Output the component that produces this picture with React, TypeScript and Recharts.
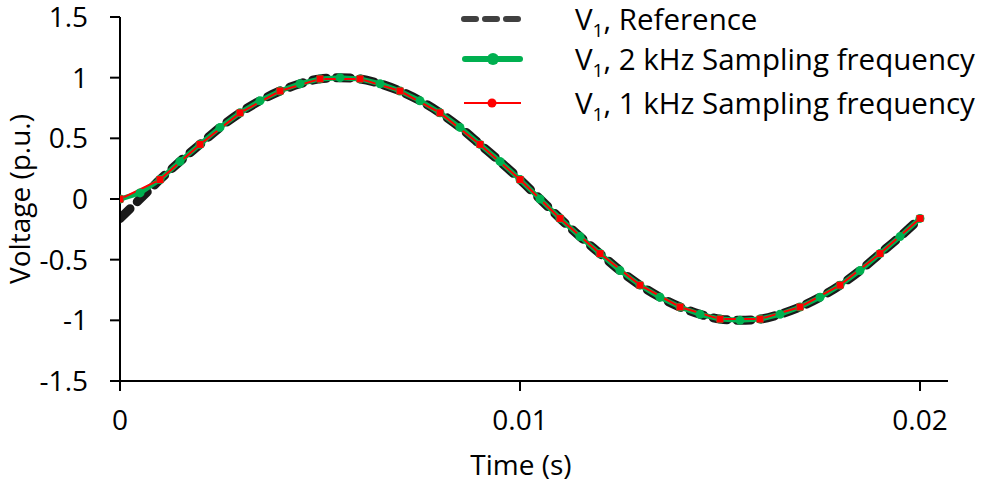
import { LineChart, Line, XAxis, YAxis, Label } from "recharts";

// time stamps (s)
const refTime = [
  0, 0.0005, 0.001, 0.0015, 0.002, 0.0025, 0.003, 0.0035, 0.004, 0.0045,
  0.005, 0.0055, 0.006, 0.0065, 0.007, 0.0075, 0.008, 0.0085, 0.009, 0.0095,
  0.01, 0.0105, 0.011, 0.0115, 0.012, 0.0125, 0.013, 0.0135, 0.014, 0.0145,
  0.015, 0.0155, 0.016, 0.0165, 0.017, 0.0175, 0.018, 0.0185, 0.019, 0.0195, 0.02,
];
// V1 reference (p.u.)
const refVolt = [
  -0.16, 0.0, 0.16, 0.31, 0.45, 0.59, 0.71, 0.81, 0.89, 0.95,
  0.99, 1.0, 0.99, 0.95, 0.89, 0.81, 0.71, 0.59, 0.45, 0.31,
  0.16, 0.0, -0.16, -0.31, -0.45, -0.59, -0.71, -0.81, -0.89, -0.95,
  -0.99, -1.0, -0.99, -0.95, -0.89, -0.81, -0.71, -0.59, -0.45, -0.31, -0.16,
];
// 2 kHz samples
const volt2k = [
  0.0, 0.05, 0.16, 0.31, 0.45, 0.59, 0.71, 0.81, 0.89, 0.95,
  0.99, 1.0, 0.99, 0.95, 0.89, 0.81, 0.71, 0.59, 0.45, 0.31,
  0.16, 0.0, -0.16, -0.31, -0.45, -0.59, -0.71, -0.81, -0.89, -0.95,
  -0.99, -1.0, -0.99, -0.95, -0.89, -0.81, -0.71, -0.59, -0.45, -0.31, -0.16,
];
// 1 kHz samples
const time1k = [
  0, 0.001, 0.002, 0.003, 0.004, 0.005, 0.006, 0.007, 0.008, 0.009, 0.01,
  0.011, 0.012, 0.013, 0.014, 0.015, 0.016, 0.017, 0.018, 0.019, 0.02,
];
const volt1k = [
  0.0, 0.16, 0.45, 0.71, 0.89, 0.99, 0.99, 0.89, 0.71, 0.45, 0.16,
  -0.16, -0.45, -0.71, -0.89, -0.99, -0.99, -0.89, -0.71, -0.45, -0.16,
];

const xTicks = [0, 0.01, 0.02];
const yTicks = [-1.5, -1, -0.5, 0, 0.5, 1, 1.5];

const refData = refTime.map((t, i) => ({ t, v: refVolt[i] }));
const data2k = refTime.map((t, i) => ({ t, v: volt2k[i] }));
const data1k = time1k.map((t, i) => ({ t, v: volt1k[i] }));

const FONT = "'Open Sans', sans-serif";
const BLACK = "#1a1a1a";
const GREEN = "#00b050";
const RED = "#ff0000";

const SquareDot = (props: any) => {
  const { cx, cy, index } = props;
  if (cx == null || cy == null) return <g key={index} />;
  return <rect key={index} x={cx - 3.5} y={cy - 3.5} width={7} height={7} fill={RED} />;
};

const legendRows = [
  { key: "ref", text: ", Reference", top: 3 },
  { key: "2k", text: ", 2 kHz Sampling frequency", top: 43 },
  { key: "1k", text: ", 1 kHz Sampling frequency", top: 87 },
];

// legend drawn over the plot's top-right corner
const LegendBox = () => (
  <div style={{ position: "absolute", left: 440, top: 0, width: 545, fontFamily: FONT, fontSize: 29.5, color: "#000" }}>
    {legendRows.map((r, i) => (
      <div key={r.key} style={{ position: "absolute", top: r.top, left: 0, display: "flex", alignItems: "center", height: 32, lineHeight: "32px" }}>
        <svg width={135} height={20} style={{ flex: "none" }}>
          {i === 0 && (
            <line x1={24} y1={10} x2={78} y2={10} stroke="#404040" strokeWidth={6}
              strokeDasharray="12 9" strokeLinecap="round" />
          )}
          {i === 1 && (
            <g>
              <line x1={25} y1={10} x2={80} y2={10} stroke={GREEN} strokeWidth={6} strokeLinecap="round" />
              <circle cx={53} cy={10} r={6} fill={GREEN} />
            </g>
          )}
          {i === 2 && (
            <g>
              <line x1={24} y1={10} x2={81} y2={10} stroke={RED} strokeWidth={2} />
              <circle cx={52} cy={10} r={4.5} fill={RED} />
            </g>
          )}
        </svg>
        <span style={{ whiteSpace: "nowrap" }}>
          V<sub style={{ fontSize: 19, lineHeight: 0 }}>1</sub>
          {r.text}
        </span>
      </div>
    ))}
  </div>
);

export default function App() {
  return (
    <div style={{ position: "absolute", left: 0, top: 0, width: 985, height: 483, background: "#fff" }}>
      <LineChart width={985} height={483} margin={{ top: 17, right: 37, bottom: 0, left: 0 }}>
        <XAxis
          type="number"
          dataKey="t"
          domain={[0, 0.0207]}
          ticks={xTicks}
          allowDataOverflow
          stroke="#000"
          strokeWidth={2}
          tickSize={10}
          tickMargin={19}
          height={102}
          tick={{ fill: "#000", fontSize: 28, fontFamily: FONT }}
        >
          <Label value="Time (s)" position="insideBottom" offset={8} dx={-13}
            style={{ fill: "#000", fontSize: 28, fontFamily: FONT }} />
        </XAxis>
        <YAxis
          type="number"
          dataKey="v"
          domain={[-1.5, 1.5]}
          ticks={yTicks}
          stroke="#000"
          strokeWidth={2}
          tickSize={10}
          tickMargin={22}
          width={120}
          tick={{ fill: "#000", fontSize: 28, fontFamily: FONT }}
        >
          <Label value="Voltage (p.u.)" angle={-90} position="insideLeft" offset={20}
            style={{ textAnchor: "middle", fill: "#000", fontSize: 28, fontFamily: FONT }} />
        </YAxis>
        <Line
          data={refData}
          dataKey="v"
          type="monotone"
          stroke={BLACK}
          strokeWidth={9}
          strokeDasharray="14 10"
          strokeLinecap="round"
          dot={false}
          isAnimationActive={false}
        />
        <Line
          data={data2k}
          dataKey="v"
          type="linear"
          stroke={GREEN}
          strokeWidth={5}
          dot={{ r: 4.5, fill: GREEN, stroke: "none" }}
          isAnimationActive={false}
        />
        <Line
          data={data1k}
          dataKey="v"
          type="linear"
          stroke={RED}
          strokeWidth={2}
          dot={SquareDot}
          isAnimationActive={false}
        />
      </LineChart>
      <LegendBox />
    </div>
  );
}
